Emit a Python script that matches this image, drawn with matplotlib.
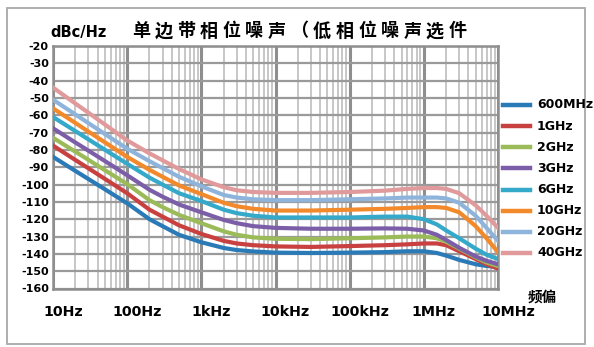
import matplotlib
matplotlib.use("Agg")
import matplotlib.pyplot as plt
from matplotlib.lines import Line2D
from matplotlib.patches import Rectangle
from matplotlib.transforms import ScaledTranslation

plt.rcParams['axes.unicode_minus'] = False

# Offset frequencies (Hz)
freq = [10, 20, 30, 50, 100, 200, 300, 500, 1e3, 2e3, 3e3, 5e3, 1e4, 3e4,
        1e5, 3e5, 6e5, 1e6, 1.5e6, 2e6, 3e6, 5e6, 7e6, 1e7]

# Single-sideband phase noise (dBc/Hz) per carrier
carriers = ["600MHz", "1GHz", "2GHz", "3GHz", "6GHz", "10GHz", "20GHz", "40GHz"]
pn_600m = [-84, -92.1, -96.8, -102.7, -110.8, -120, -124, -129, -133.3, -136.6, -137.8, -138.6,
           -139.3, -139.5, -139.3, -139, -138.5, -138.5, -139.5, -141, -143.5, -146, -147, -147.5]
pn_1g = [-77.5, -85.8, -90.6, -96.7, -105, -114.5, -118.5, -123.5, -128.5, -132.5, -134, -135,
         -135.7, -136, -135.5, -135, -134.5, -134, -134, -135, -138.5, -143, -146, -148.5]
pn_2g = [-73, -81, -85.7, -91.7, -99.7, -109, -113, -117.5, -122.3, -127, -129, -130.5,
         -131.3, -131.5, -131, -130.5, -130, -130, -131, -133, -137, -142, -145, -147]
pn_3g = [-67.5, -75.7, -80.4, -86.4, -94.6, -103, -107, -111.5, -116, -120.4, -122.3, -124,
         -125, -125.5, -125.5, -125.3, -125.5, -126.5, -129, -132, -136.5, -141.5, -144, -146]
pn_6g = [-61, -69.1, -73.9, -79.9, -88, -96, -100, -105, -109.5, -114.5, -116.5, -118,
         -119, -119, -119, -118.5, -118.5, -120, -123, -126.5, -131, -137, -140.5, -143]
pn_10g = [-56, -64.4, -69.4, -75.6, -84, -91.5, -95.5, -100.5, -105.5, -110.5, -112.5, -114,
          -115, -115, -114.5, -114, -113.5, -113, -113, -113.5, -116, -124, -131, -139]
pn_20g = [-51, -59.5, -64.5, -70.8, -79.3, -86.5, -90.5, -95.5, -101, -106, -107.5, -108.5,
          -109, -109, -108.5, -108, -107.5, -107.5, -107.5, -108, -110.5, -118, -125, -132.5]
pn_40g = [-44, -53.2, -58.5, -65.3, -74.5, -82, -86, -91, -97, -101.5, -103.3, -104.3,
          -104.8, -104.8, -104.3, -103.5, -102.5, -102, -102, -102.5, -105, -112, -118, -125]
series = [pn_600m, pn_1g, pn_2g, pn_3g, pn_6g, pn_10g, pn_20g, pn_40g]
colors = ["#2a7ab8", "#c8403f", "#9bbb59", "#7b5ea7", "#35a9c9", "#f28a2c", "#8fb4dc", "#e09a9c"]

xticks = [10, 100, 1e3, 1e4, 1e5, 1e6, 1e7]
xtick_labels = ["10Hz", "100Hz", "1kHz", "10kHz", "100kHz", "1MHz", "10MHz"]
yticks = list(range(-160, -19, 10))

title_text = "单边带相位噪声（低相位噪声选件"
unit_text = "dBc/Hz"
xlabel_text = "频偏"

W, H = 594, 347
fig = plt.figure(figsize=(W / 100, H / 100), dpi=100)
fig.patch.set_facecolor("white")

# outer frame
fig.add_artist(Rectangle((7 / W, 1 - 344 / H), 578 / W, 336 / H, transform=fig.transFigure,
                         fill=False, edgecolor="#a8a8a8", lw=1.3))

ax = fig.add_axes([53 / W, 1 - 288.5 / H, 445 / W, 242.5 / H])
ax.set_xscale("log")
ax.set_xlim(10, 1e7)
ax.set_ylim(-160, -20)

ax.grid(which="major", axis="x", color="#8e8e8e", lw=2.2, zorder=0)
ax.grid(which="minor", axis="x", color="#b8b8b8", lw=1.1, zorder=0)
ax.grid(which="major", axis="y", color="#9a9a9a", lw=1.6, zorder=0)
for s in ax.spines.values():
    s.set_color("#8e8e8e")
    s.set_linewidth(1.8)
ax.set_axisbelow(True)

for vals, c in zip(series, colors):
    ax.plot(freq, vals, color=c, lw=3.0, solid_joinstyle="round", zorder=3)

ax.set_xticks(xticks)
ax.set_xticklabels(xtick_labels, fontsize=10.3, fontweight="bold", family="DejaVu Sans")
ax.set_yticks(yticks)
ax.set_yticklabels([str(v) for v in yticks], fontsize=8, fontweight="bold", family="DejaVu Sans")
ax.tick_params(axis="both", which="both", length=0)
ax.tick_params(axis="x", pad=12)
ax.tick_params(axis="y", pad=3)
shift = ScaledTranslation(10 / 100, 0, fig.dpi_scale_trans)
for lab in ax.get_xticklabels():
    lab.set_transform(lab.get_transform() + shift)

# unit and title
fig.text(50 / W, 1 - 32 / H, unit_text, fontsize=10.5, fontweight="bold",
         family="DejaVu Sans", ha="left", va="center")
for i, ch in enumerate(title_text):
    fig.text((141 + 22.6 * i) / W, 1 - 31 / H, ch, fontsize=13, fontweight="bold",
             family=["Noto Sans CJK SC", "DejaVu Sans"], ha="center", va="center")

fig.text(542 / W, 1 - 297 / H, xlabel_text, fontsize=10.5, fontweight="bold",
         family=["Noto Sans CJK SC", "DejaVu Sans"], ha="center", va="center")

# legend
for i, (name, c) in enumerate(zip(carriers, colors)):
    y = 1 - (105 + 21.14 * i) / H
    fig.add_artist(Line2D([503 / W, 530 / W], [y, y], transform=fig.transFigure,
                          color=c, lw=3.2))
    fig.text(537 / W, y, name, fontsize=9, fontweight="bold", family="DejaVu Sans",
             ha="left", va="center")

fig.savefig("out.png", dpi=100)
